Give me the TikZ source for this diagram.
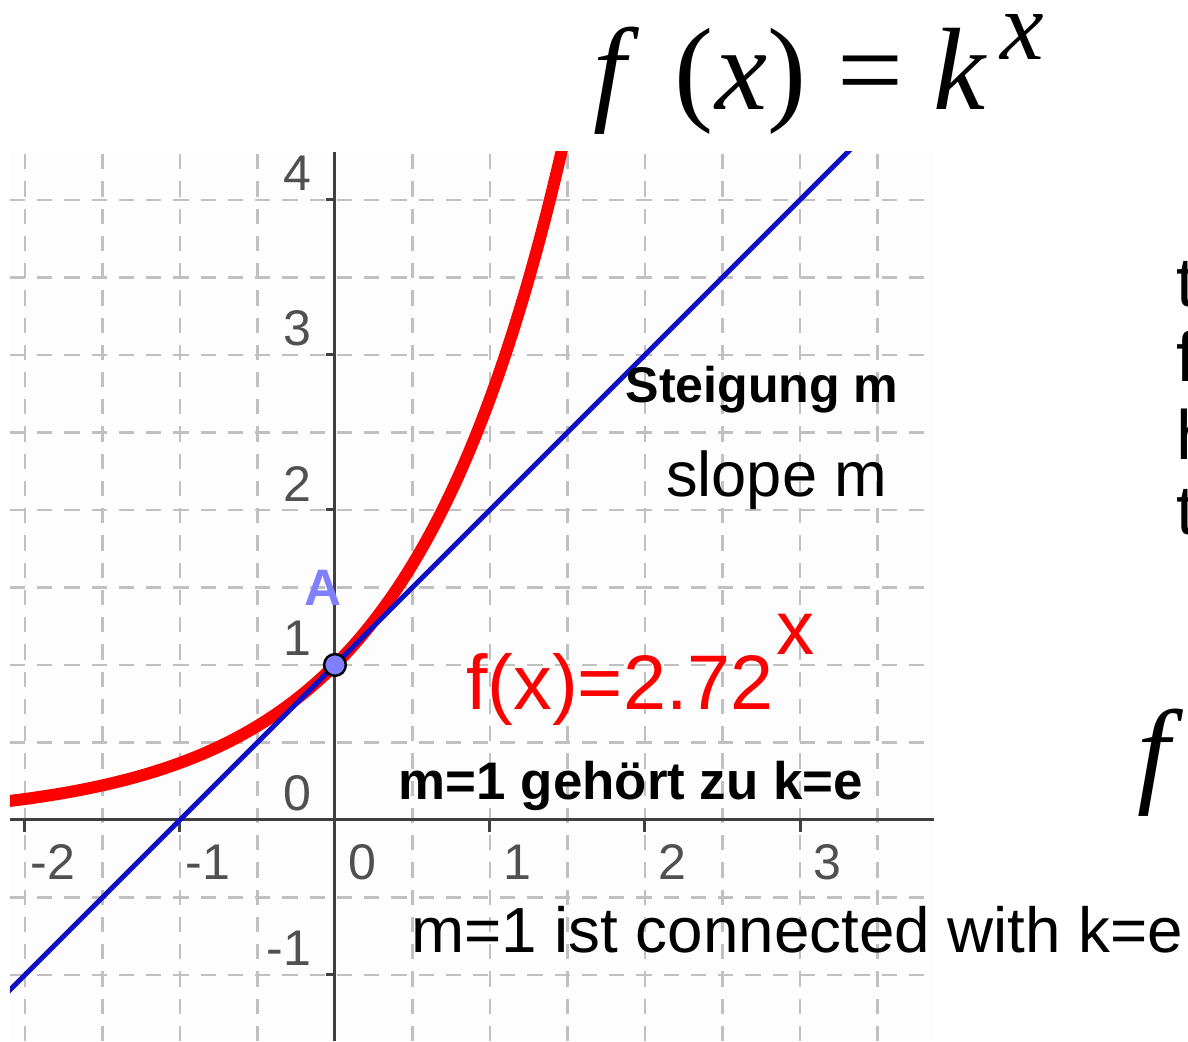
\documentclass[tikz,border=0pt]{standalone}
\usepackage{fontspec}
\setmainfont{Liberation Sans}
\newfontfamily\formulafont{Liberation Serif}
\usetikzlibrary{positioning}
\definecolor{gridCol}{HTML}{C0C0C0}
\definecolor{axisCol}{HTML}{404040}
\definecolor{labelCol}{HTML}{505050}
\definecolor{curveRed}{HTML}{FF0000}
\definecolor{lineBlue}{HTML}{0F0FC8}
\definecolor{pointFill}{HTML}{7F7FFF}
\definecolor{plotBg}{HTML}{FDFDFD}
\tikzset{
  gridline/.style={gridCol, line width=0.45pt, dash pattern=on 2.8pt off 2.2pt},
  axisline/.style={axisCol, line width=0.55pt},
  tickmark/.style={axisCol, line width=0.55pt},
  ticklabel/.style={font=\fontsize{9.2}{10}\selectfont, text=labelCol, inner sep=0pt},
  expcurve/.style={curveRed, line width=2.2pt},
  tangent/.style={lineBlue, line width=0.9pt},
  pointdot/.style={circle, draw=black, fill=pointFill, line width=0.45pt,
    minimum size=0.14cm, inner sep=0pt},
  plaintext/.style={inner sep=0pt, anchor=base west},
}

\begin{document}
\begin{tikzpicture}

  \useasboundingbox (-2.161,-1.426) rectangle (5.503,5.290);

  % Plot area
  \fill[plotBg] (-2.097,-1.426) rectangle (3.865,4.31);
  \begin{scope}
    \clip (-2.097,-1.426) rectangle (3.865,4.31);
    \foreach \x in {-2,-1.5,...,3.5}
      \draw[gridline] (\x,-1.426) -- (\x,4.31);
    \foreach \y in {-1,-0.5,...,4}
      \draw[gridline] (-2.097,\y) -- (3.865,\y);
  \end{scope}

  % Axes
  \draw[axisline] (-2.097,0) -- (3.865,0);
  \draw[axisline] (0,-1.426) -- (0,4.31);
  \foreach \x in {-2,...,3}
    \draw[tickmark] (\x,0) -- (\x,-0.08);
  \foreach \y in {-1,...,4}
    \draw[tickmark] (-0.06,\y) -- (0,\y);

  % Tick labels
  \foreach \x [count=\i] in {-2,...,3}
    \node[ticklabel] (xl\i) at (\x+0.18,-0.27) {\x};
  \foreach \y [count=\i] in {-1,...,4}
    \node[ticklabel, anchor=east] (yl\i) at (-0.145,\y+0.17) {\y};

  % Curve and tangent
  \begin{scope}
    \clip (-2.097,-1.426) rectangle (3.865,4.31);
    \draw[expcurve] plot[domain=-2.2:1.5, samples=120, smooth] (\x,{exp(\x)});
    \draw[tangent] (-2.2,-1.2) -- (3.5,4.5);
  \end{scope}

  \node[pointdot] (A) at (0,1) {};
  \node[font=\bfseries\fontsize{9.4}{10}\selectfont, text=pointFill, inner sep=0pt]
    (Alabel) at (-0.077,1.497) {A};

  % Labels in the plot
  \node[inner sep=0pt, anchor=base, font=\bfseries\fontsize{9.2}{10}\selectfont]
    (steigung) at (2.755,2.69) {Steigung m};
  \node[inner sep=0pt, anchor=base, font=\fontsize{11.6}{12}\selectfont]
    (slope) at (2.85,2.084) {slope m};
  \node[plaintext, text=curveRed, font=\fontsize{14.2}{15}\selectfont]
    (fx) at (0.839,0.71) {f(x)=2.72};
  \node[plaintext, text=curveRed, font=\fontsize{14}{15}\selectfont]
    (fxexp) at (2.84,1.065) {x};
  \node[plaintext, font=\bfseries\fontsize{9.7}{10}\selectfont]
    (gehoert) at (0.406,0.13) {m=1 gehört zu k=e};
  \node[plaintext, font=\fontsize{11.7}{12}\selectfont]
    (connected) at (0.484,-0.852) {m=1 ist connected with k=e};

  % Formula
  \node[plaintext, font=\formulafont\fontsize{21.5}{22}\selectfont]
    (fkx) at (1.66,4.581) {\textit{f}\hspace{0.30em}(\hspace{0.02em}\textit{x})\hspace{0.26em}=\hspace{0.26em}\textit{k}\hspace{0.11em}\raisebox{9.3pt}{\fontsize{18}{18}\selectfont\textit{x}}};

  % Cut at the right edge
  \foreach \yb [count=\i] in {3.310,2.826,2.323,1.839}
    \node[plaintext, font=\fontsize{12.8}{13}\selectfont] (cut\i) at (5.42,\yb)
      {\ifcase\i\or t\or f\or h\or t\fi};
  \node[plaintext, font=\formulafont\fontsize{21.5}{22}\selectfont]
    (fcut) at (5.17,0.185) {\textit{f}};

\end{tikzpicture}
\end{document}
